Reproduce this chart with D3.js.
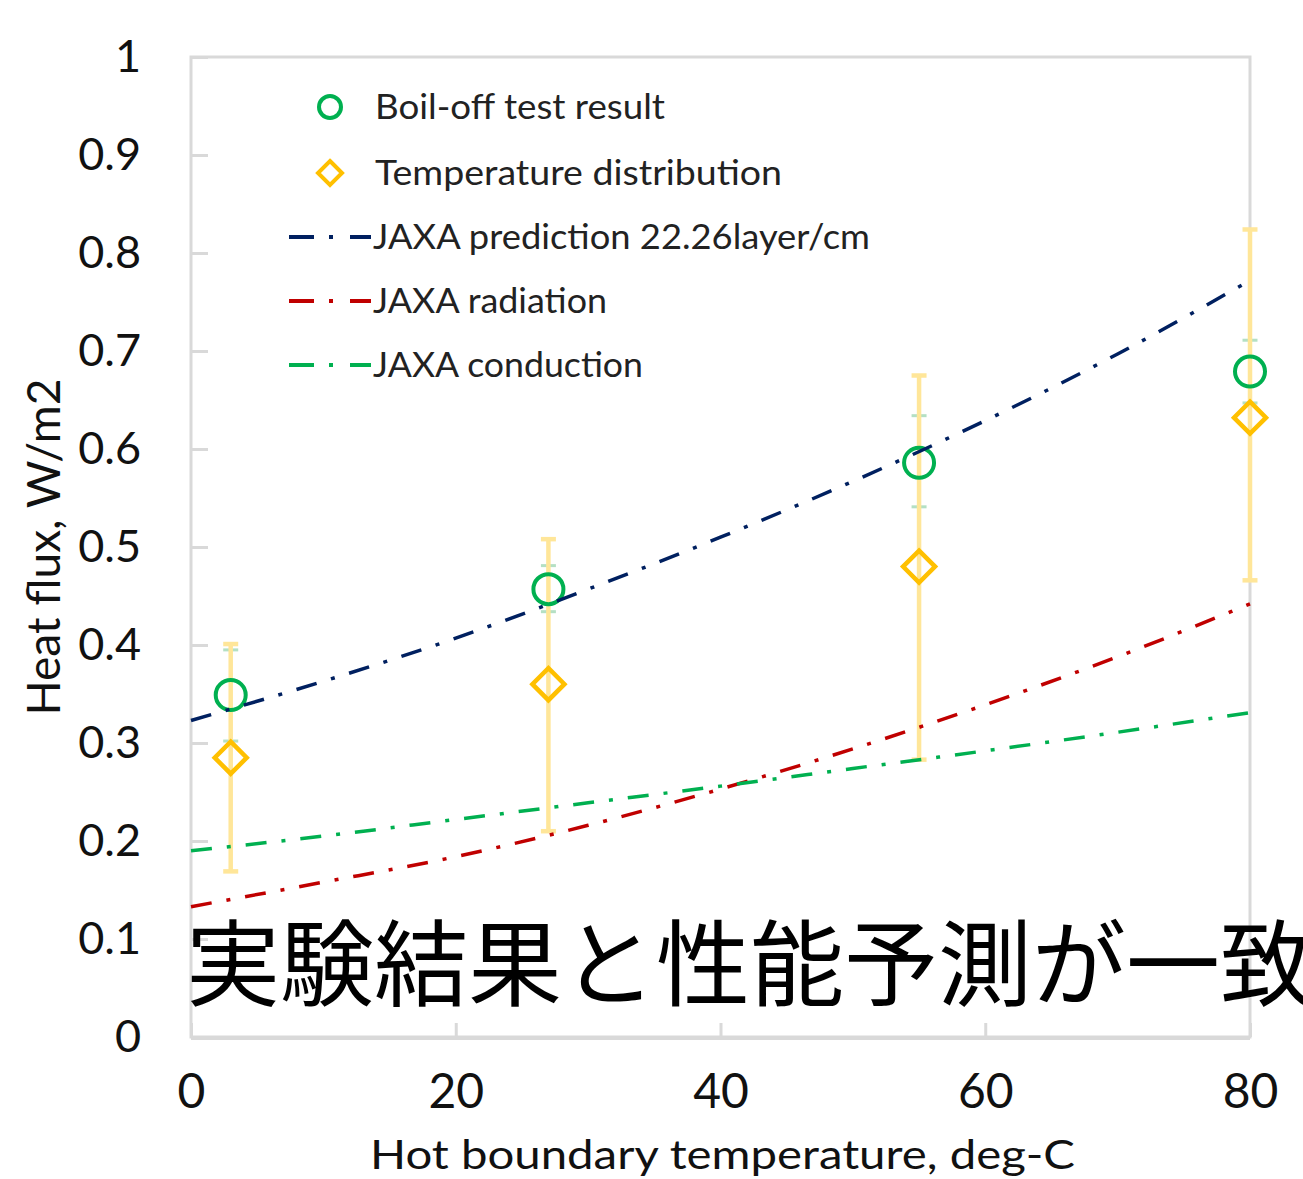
<!DOCTYPE html>
<html>
<head>
<meta charset="utf-8">
<script src="https://cdn.jsdelivr.net/npm/d3@7.9.0/dist/d3.min.js"></script>
<style>
  html, body { margin: 0; padding: 0; background: #fff; overflow: hidden; }
  svg { display: block; font-family: Lato, "Open Sans", sans-serif; }
</style>
</head>
<body>
<svg id="chart" width="1303" height="1179"></svg>
<script>
// measured points (hot boundary temperature, deg-C)
const testTemps = [3, 27, 55, 80];

// boil-off test result with its error range
const boilOff = [0.349, 0.457, 0.586, 0.679];
const boilOffLow = [0.302, 0.434, 0.541, 0.647];
const boilOffHigh = [0.395, 0.481, 0.634, 0.711];

// temperature distribution with its error range
const tempDist = [0.285, 0.360, 0.480, 0.632];
const tempDistLow = [0.169, 0.210, 0.283, 0.466];
const tempDistHigh = [0.401, 0.508, 0.675, 0.824];

// JAXA model curves
const curveTemps = [0, 10, 20, 30, 40, 50, 60, 70, 80];
const prediction = [0.323, 0.363, 0.407, 0.457, 0.510, 0.567, 0.629, 0.697, 0.772];
const radiation = [0.133, 0.158, 0.184, 0.216, 0.253, 0.294, 0.339, 0.388, 0.442];
const conduction = [0.190, 0.205, 0.222, 0.239, 0.256, 0.274, 0.292, 0.311, 0.331];

const xTicks = [0, 20, 40, 60, 80];
const yTicks = [0, 0.1, 0.2, 0.3, 0.4, 0.5, 0.6, 0.7, 0.8, 0.9, 1];

const navy = '#002060', red = '#c00000', green = '#00b050', gold = '#ffc000';
const grey = '#d9d9d9';

const svg = d3.select('#chart');
const x = d3.scaleLinear().domain([0, 80]).range([191, 1250]);
const y = d3.scaleLinear().domain([0, 1]).range([1037, 57]);

// frame
svg.append('rect')
  .attr('x', x(0)).attr('y', y(1))
  .attr('width', x(80) - x(0)).attr('height', y(0) - y(1))
  .attr('fill', 'none').attr('stroke', grey).attr('stroke-width', 3);

// y axis
const yAxis = svg.append('g')
  .attr('transform', `translate(${x(0)},0)`)
  .call(d3.axisLeft(y).tickValues(yTicks).tickFormat(d3.format('~g'))
    .tickSizeInner(-17).tickSizeOuter(0).tickPadding(50));
yAxis.select('.domain').remove();
yAxis.selectAll('line').attr('stroke', grey).attr('stroke-width', 3);
yAxis.selectAll('text').attr('font-size', 45).attr('fill', '#111')
  .attr('font-family', 'Lato, sans-serif');

// x axis
const xAxis = svg.append('g')
  .attr('transform', `translate(0,${y(0)})`)
  .call(d3.axisBottom(x).tickValues(xTicks).tickFormat(d3.format('d'))
    .tickSizeInner(-14).tickSizeOuter(0).tickPadding(37));
xAxis.select('.domain').remove();
xAxis.selectAll('line').attr('stroke', grey).attr('stroke-width', 3);
xAxis.selectAll('text').attr('font-size', 48).attr('fill', '#111')
  .attr('font-family', 'Lato, sans-serif');

// bottom axis line on top of frame
svg.append('line')
  .attr('x1', x(0)).attr('x2', x(80)).attr('y1', y(0) + 1).attr('y2', y(0) + 1)
  .attr('stroke', grey).attr('stroke-width', 4);

// axis titles
svg.append('text')
  .attr('transform', `translate(60,547) rotate(-90)`)
  .attr('text-anchor', 'middle')
  .attr('font-size', 46).attr('fill', '#111')
  .attr('textLength', 337).attr('lengthAdjust', 'spacingAndGlyphs')
  .text('Heat flux, W/m2');

svg.append('text')
  .attr('x', 370).attr('y', 1169)
  .attr('font-size', 41).attr('fill', '#111')
  .attr('textLength', 705).attr('lengthAdjust', 'spacingAndGlyphs')
  .text('Hot boundary temperature, deg-C');

// error bars
function errorBars(lo, hi, color, width, capW) {
  const g = svg.append('g');
  testTemps.forEach((t, i) => {
    g.append('line')
      .attr('x1', x(t)).attr('x2', x(t)).attr('y1', y(lo[i])).attr('y2', y(hi[i]))
      .attr('stroke', color).attr('stroke-width', width);
    [lo[i], hi[i]].forEach(v => {
      g.append('line')
        .attr('x1', x(t) - capW / 2).attr('x2', x(t) + capW / 2)
        .attr('y1', y(v)).attr('y2', y(v))
        .attr('stroke', color).attr('stroke-width', width);
    });
  });
}
errorBars(boilOffLow, boilOffHigh, '#b4e0c4', 3, 15);
errorBars(tempDistLow, tempDistHigh, '#ffe699', 4.5, 15);

// markers
const diamond = (cx, cy, r) => `M${cx},${cy - r}L${cx + r},${cy}L${cx},${cy + r}L${cx - r},${cy}Z`;

svg.append('g').selectAll('path')
  .data(tempDist)
  .join('path')
  .attr('d', (d, i) => diamond(x(testTemps[i]), y(d), 16))
  .attr('fill', 'none').attr('stroke', gold).attr('stroke-width', 4.5);

svg.append('g').selectAll('circle')
  .data(boilOff)
  .join('circle')
  .attr('cx', (d, i) => x(testTemps[i])).attr('cy', d => y(d)).attr('r', 15)
  .attr('fill', 'none').attr('stroke', green).attr('stroke-width', 4);

// model curves
const line = d3.line()
  .x((d, i) => x(curveTemps[i]))
  .y(d => y(d))
  .curve(d3.curveMonotoneX);

const dashes = '21,15,4,15';
[[prediction, navy], [radiation, red], [conduction, green]].forEach(([vals, color]) => {
  svg.append('path')
    .attr('d', line(vals))
    .attr('fill', 'none').attr('stroke', color)
    .attr('stroke-width', 3.5).attr('stroke-dasharray', dashes);
});

// legend
const legendRows = [
  { label: 'Boil-off test result', kind: 'circle', color: green, y: 107, w: 290 },
  { label: 'Temperature distribution', kind: 'diamond', color: gold, y: 173, w: 407 },
  { label: 'JAXA prediction 22.26layer/cm', kind: 'line', color: navy, y: 237, w: 497 },
  { label: 'JAXA radiation', kind: 'line', color: red, y: 301, w: 234 },
  { label: 'JAXA conduction', kind: 'line', color: green, y: 365, w: 270 }
];

const legend = svg.append('g');
legendRows.forEach(r => {
  if (r.kind === 'circle') {
    legend.append('circle').attr('cx', 330).attr('cy', r.y).attr('r', 11)
      .attr('fill', 'none').attr('stroke', r.color).attr('stroke-width', 4);
  } else if (r.kind === 'diamond') {
    legend.append('path').attr('d', diamond(330, r.y, 12))
      .attr('fill', 'none').attr('stroke', r.color).attr('stroke-width', 4);
  } else {
    legend.append('line').attr('x1', 289).attr('x2', 371).attr('y1', r.y).attr('y2', r.y)
      .attr('stroke', r.color).attr('stroke-width', 4).attr('stroke-dasharray', '25,15,4,17');
  }
  const tx = r.kind === 'line' ? 373 : 375;
  legend.append('text')
    .attr('x', tx).attr('y', r.y + 12)
    .attr('font-size', 34).attr('fill', '#222')
    .attr('textLength', r.w).attr('lengthAdjust', 'spacingAndGlyphs')
    .text(r.label);
});

// overlay caption
svg.append('text')
  .attr('x', 186).attr('y', 999)
  .attr('font-family', '"Noto Sans CJK JP", sans-serif')
  .attr('font-size', 94).attr('font-weight', 400).attr('fill', '#000')
  .text('実験結果と性能予測が一致');
</script>
</body>
</html>
